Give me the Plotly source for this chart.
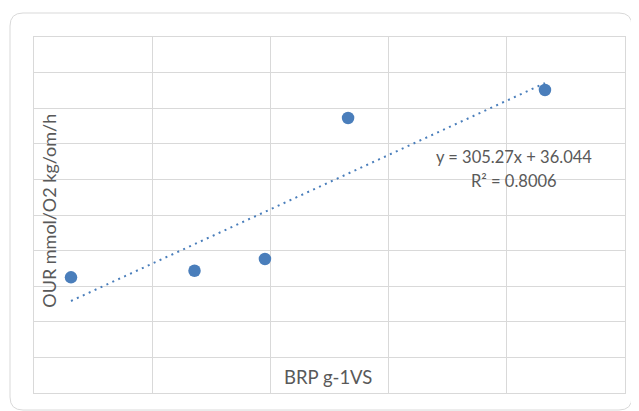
import plotly.graph_objects as go
import numpy as np

# Data
brp = [0.0513, 0.1558, 0.2154, 0.2857, 0.4523]      # BRP g-1VS
our = [65.0, 68.7, 75.3, 154.5, 170.2]              # OUR mmol/O2 kg/om/h
slope = 305.27
intercept = 36.044
r2 = 0.8006

x_range = [0.02, 0.52]
y_range = [0, 200]

blue = "#4A7EBB"
grid = "#D9D9D9"
txt = "#595959"
font = "Lato"

fig = go.Figure()

tx = np.array([min(brp), max(brp)])
fig.add_trace(go.Scatter(x=tx, y=slope * tx + intercept, mode="lines",
                         line=dict(color=blue, width=2, dash="2px,4.5px"),
                         hoverinfo="skip", showlegend=False))
fig.add_trace(go.Scatter(x=brp, y=our, mode="markers",
                         marker=dict(color=blue, size=12.5),
                         showlegend=False))

# outer rounded border (paper coords)
L, R, B, T = -0.0406, 1.0118, -0.0478, 1.0674
rx, ry = 0.022, 0.0365
path = (f"M {L+rx},{T} L {R-rx},{T} Q {R},{T} {R},{T-ry} L {R},{B+ry} Q {R},{B} {R-rx},{B} "
        f"L {L+rx},{B} Q {L},{B} {L},{B+ry} L {L},{T-ry} Q {L},{T} {L+rx},{T} Z")

def ann(text, x, y, size, angle=0):
    return dict(text=text, xref="paper", yref="paper", x=x, y=y, xanchor="center",
                yanchor="middle", textangle=angle, showarrow=False,
                font=dict(size=size, color=txt))

# the page body has an 8px margin: size the figure to compensate
fig.update_layout(
    width=631, height=403,
    margin=dict(l=26, r=14, t=29, b=18),
    paper_bgcolor="white", plot_bgcolor="white",
    font=dict(family=font, color=txt, size=14),
    shapes=[dict(type="path", path=path, xref="paper", yref="paper",
                 line=dict(color=grid, width=1), layer="below")],
    annotations=[
        ann("OUR mmol/O2 kg/om/h", 0.026, 0.513, 18, -90),
        ann("BRP g-1VS", 0.498, 0.046, 18.5),
        ann(f"y = {slope}x + {intercept}", 0.813, 0.663, 16.5),
        ann(f"R² = {r2}", 0.813, 0.596, 16.5),
    ],
)
fig.update_xaxes(range=x_range, tick0=0.02, dtick=0.1, showticklabels=False, ticks="",
                 showgrid=True, gridcolor=grid, gridwidth=1, zeroline=False,
                 showline=True, linecolor=grid, linewidth=1, mirror=True)
fig.update_yaxes(range=y_range, tick0=0, dtick=20, showticklabels=False, ticks="",
                 showgrid=True, gridcolor=grid, gridwidth=1, zeroline=False,
                 showline=True, linecolor=grid, linewidth=1, mirror=True)

fig.write_html("out.html")
